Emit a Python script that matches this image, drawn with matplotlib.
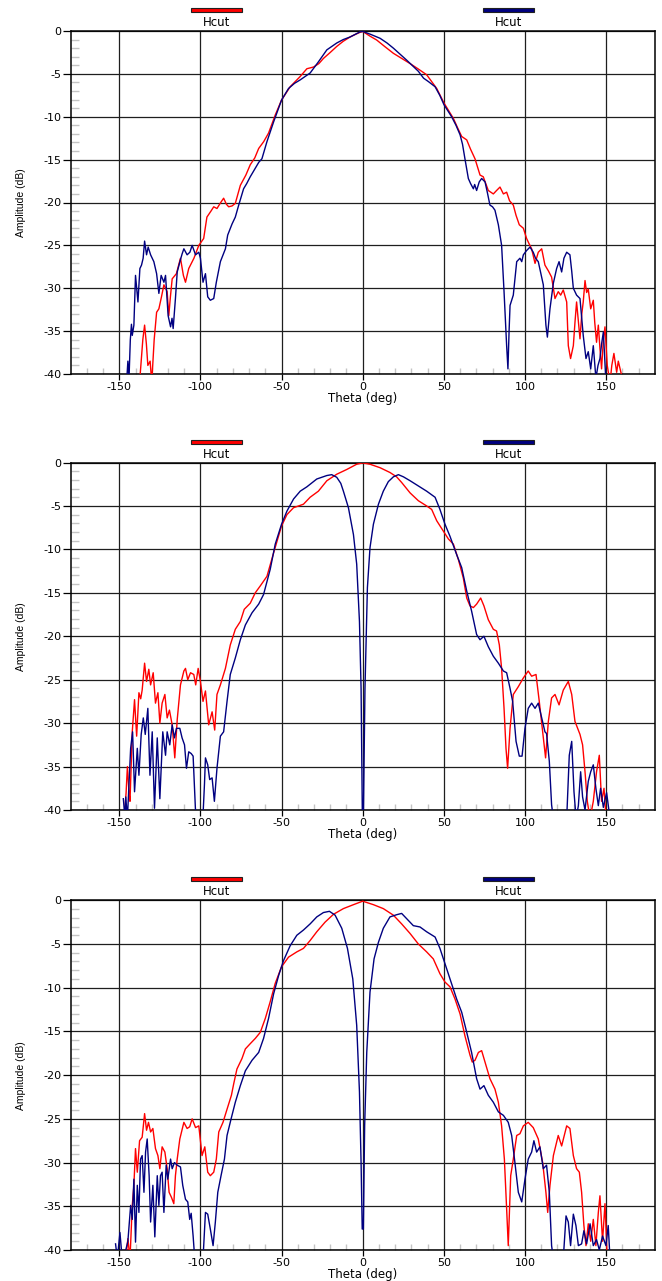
import matplotlib
matplotlib.use("Agg")
import matplotlib.pyplot as plt
from matplotlib.patches import Rectangle
import matplotlib.transforms as mtransforms

plt.rcParams['axes.unicode_minus'] = False
plt.rcParams['font.family'] = ['DejaVu Sans']

# ---------------- data (theta in deg, amplitude in dB) ----------------
p1_red = [(-137.5, -41), (-135.5, -36), (-134.4, -34.3), (-133.3, -36.5), (-132.4, -39), (-131, -38.5), (-130, -41),
          (-128.5, -36), (-127, -32.8), (-125.6, -32.4), (-124, -31), (-122.5, -29.6), (-120.5, -30.4), (-119.5, -33.2),
          (-118.5, -31), (-117.4, -28.9), (-114.8, -28.3), (-112.3, -26.5), (-110.5, -28.5), (-109.2, -29.3),
          (-107.2, -27.7), (-104, -26.5), (-101, -25), (-98, -24.2), (-96, -21.7), (-93.5, -21), (-91.8, -20.5),
          (-89.8, -20.7), (-87.5, -20), (-85.7, -19.5), (-84, -20.2), (-82.6, -20.5), (-80.5, -20.4), (-78.5, -20.1),
          (-75.4, -18), (-72, -16.8), (-69.3, -15.6), (-66.5, -14.8), (-64.1, -13.7), (-61, -12.9), (-58, -11.9),
          (-53.9, -9.8), (-50, -8.05), (-44.7, -6.5), (-38.5, -5.3), (-34.4, -4.4), (-30.3, -4.2), (-27, -3.8),
          (-24.2, -3.2), (-20, -2.5), (-16, -1.8), (-12, -1.2), (-7.8, -0.7), (-4, -0.35), (-1.6, -0.15), (0, -0.05),
          (2, -0.3), (4.5, -0.6), (8.6, -1.05), (13.5, -1.8), (18.9, -2.6), (24, -3.2), (29.2, -3.8), (34, -4.4),
          (39.4, -5.1), (45.6, -6.7), (50.1, -8.4), (55.9, -10.2), (58.5, -11.3), (61, -12.3), (64.1, -12.7),
          (66.5, -13.8), (69.2, -14.9), (72.3, -16.8), (74.3, -17), (77.4, -18.6), (80.5, -19), (82.5, -18.6),
          (84.6, -18.2), (86.7, -19), (88.7, -18.8), (90.5, -19.8), (92.8, -20.3), (94.5, -21.5), (96.5, -22.6),
          (99, -23), (101, -24.2), (102.5, -24.8), (104.1, -25.4), (106.2, -27.1), (108.2, -25.8), (110.3, -25.4),
          (112.3, -27.3), (114.5, -28), (116.4, -28.7), (118.5, -31.2), (120.5, -30.4), (122, -30.8), (123.6, -30.2),
          (125.7, -31.6), (126.7, -36.7), (128.1, -38.2), (129.8, -36.7), (130.8, -34), (131.8, -31.6), (133, -34),
          (133.9, -35.9), (135, -33), (135.9, -31.6), (137, -29.1), (138, -30.5), (139, -30.1), (140.5, -32.4),
          (142.1, -31.4), (143, -34), (144.1, -36.3), (145.2, -34.3), (146.2, -37), (147.2, -39.4), (148.3, -36),
          (149.3, -34.5), (150.7, -39), (152.4, -41), (153.5, -39), (154.8, -37.6), (156.5, -39.8), (157.5, -38.5),
          (158.5, -39.3), (160.6, -41)]

p1_blue = [(-145.5, -41), (-144.7, -38.5), (-144, -40.5), (-143.2, -36), (-142.5, -34.2), (-142, -35.5), (-141, -34.3),
           (-140, -28.5), (-139.3, -30), (-138.5, -31.6), (-137.3, -27.7), (-136.3, -27.3), (-135.3, -26.5),
           (-134.4, -24.5), (-133.2, -26.1), (-132.2, -25.2), (-130.7, -26.1), (-128.7, -26.9), (-127, -28.3),
           (-125.6, -30.6), (-124.2, -28.5), (-122.5, -29.3), (-121.5, -28.5), (-119.9, -33.2), (-118.4, -34.5),
           (-117.5, -33.5), (-116.8, -34.7), (-115.4, -31.2), (-114.3, -28.1), (-112.5, -26.8), (-111.3, -26),
           (-110.2, -25.4), (-108.2, -26.1), (-106.5, -25.8), (-105.1, -25), (-103, -26.1), (-101, -25.8),
           (-100, -26.5), (-98.4, -29.3), (-96.9, -28.3), (-95.5, -31), (-93.9, -31.4), (-91.8, -31.2),
           (-90.2, -29.3), (-87.7, -26.9), (-84.6, -25.4), (-83.2, -23.8), (-80.5, -22.5), (-78.5, -21.7),
           (-76.4, -20.3), (-73.4, -18.4), (-71.5, -17.8), (-69.3, -17), (-66.2, -16), (-64, -15.3), (-62.1, -14.9),
           (-59, -12.9), (-54.9, -10.6), (-50, -8.05), (-45.7, -6.7), (-42, -6.1), (-38.5, -5.7), (-35.5, -5.3),
           (-32.4, -4.9), (-27.3, -3.6), (-22.1, -2.2), (-16, -1.4), (-12, -1.0), (-7.8, -0.7), (-1.6, -0.1),
           (0, -0.05), (5, -0.4), (10.7, -0.85), (15, -1.4), (18.9, -2), (23, -2.7), (27.1, -3.4), (31, -4.1),
           (34.3, -4.7), (37.5, -5.5), (40.5, -5.9), (44.6, -6.5), (47.5, -7.5), (50.1, -8.6), (54.8, -10),
           (57.5, -11), (60, -12.1), (61.5, -13.2), (63, -14.9), (65.1, -17.2), (66.5, -17.8), (68.2, -18.4),
           (69, -17.9), (70.2, -18.6), (71.8, -17.6), (73.3, -17.2), (75.4, -17.6), (77, -19), (78.4, -20.3),
           (80, -20.5), (81.5, -20.9), (83.6, -22.6), (85.6, -25), (87.1, -30.4), (88.7, -36.7), (89.5, -39.4),
           (90.2, -35), (90.8, -32), (92.8, -30.8), (94.9, -26.9), (96.9, -26.5), (98, -26.9), (99, -26.1),
           (101, -25.6), (103.1, -25.2), (105.1, -25.8), (106.5, -26.5), (108.2, -26.9), (111.3, -29.6),
           (112.9, -34.3), (113.8, -35.7), (115.4, -32.4), (117.5, -29.4), (119.5, -27.7), (121, -26.9),
           (122.6, -28.1), (124, -26.5), (125.7, -25.8), (127.7, -26.1), (128.8, -28), (129.8, -30), (131.8, -30.8),
           (133.9, -31.2), (135.9, -35.5), (137.6, -38.2), (139, -37.4), (140.5, -39.4), (142.1, -36.7),
           (143.7, -40.5), (145, -39), (146.2, -38.2), (147.2, -36.5), (148.3, -35.1), (149.9, -41)]

p2_red = [(-147, -41), (-145.8, -38), (-145, -35), (-144, -38), (-143.4, -39), (-142, -31), (-140.6, -27.3),
          (-139.3, -31.5), (-137.9, -26.5), (-136.8, -27.2), (-135.9, -26.2), (-134.4, -23.1), (-133.2, -25.2),
          (-131.8, -23.8), (-130.7, -25.6), (-129.1, -24.2), (-127.7, -27.7), (-126.2, -26.5), (-125, -30),
          (-123.6, -27.7), (-121.9, -26.7), (-120.5, -29.4), (-119.1, -28.5), (-117.4, -30.2), (-115.8, -34),
          (-114.3, -29.6), (-112.3, -25.6), (-110.2, -24), (-109.2, -23.7), (-107.8, -25), (-106.1, -24.2),
          (-104.1, -24.4), (-102.9, -25.6), (-101.4, -23.7), (-100, -25.2), (-98.4, -27.5), (-96.9, -26.3),
          (-94.9, -30.2), (-92.8, -28.7), (-91.2, -30.8), (-89.8, -26.7), (-87.7, -25.6), (-84.6, -23.7),
          (-81.6, -21), (-78.5, -19.2), (-75.4, -18.3), (-73, -16.9), (-69.3, -16.2), (-66.2, -15), (-63.1, -14.2),
          (-59, -13.1), (-54.9, -10.4), (-50, -7.3), (-46.7, -6), (-42.6, -5.2), (-39.5, -5.0), (-36.5, -4.8),
          (-32.4, -4), (-27.3, -3.3), (-22.1, -2.1), (-16, -1.35), (-9.8, -0.8), (-3.7, -0.2), (0, -0.05),
          (4.5, -0.2), (10.7, -0.6), (16.8, -1.15), (20.9, -1.65), (24, -2.3), (29.2, -3.5), (34.3, -4.4),
          (39.4, -5), (42.5, -5.4), (45.6, -6.7), (49.7, -7.9), (52.8, -8.8), (55.9, -9.4), (59, -11.2), (62, -13.3),
          (64.1, -15.6), (66.1, -16.5), (68.2, -16.7), (70.2, -16.3), (72.7, -15.6), (74.7, -16.5), (77.4, -18.1),
          (80.5, -19.2), (82.5, -19.4), (84.2, -21), (85.6, -23.7), (87.1, -28.3), (88.3, -32.9), (89.3, -35.2),
          (90.8, -30.6), (92.8, -26.7), (95.9, -25.8), (99, -24.8), (102, -24), (104.1, -24.6), (106.8, -24.4),
          (108.8, -27.5), (110.9, -31), (112.7, -34), (114.4, -29.8), (116.4, -27.1), (118.5, -26.7), (121, -27.9),
          (123.6, -26.2), (126.7, -25.2), (128.8, -26.7), (130.8, -29.8), (133.9, -31.3), (135.5, -32.5),
          (137, -35.6), (138.4, -39), (140.1, -41), (142.1, -39), (144.1, -35.6), (145.8, -33.7), (147.2, -39),
          (148.7, -37.5), (150, -41)]

p2_blue = [(-147.5, -38.7), (-146.5, -41), (-146, -38.5), (-145, -41), (-143, -32.9), (-141.8, -31), (-140.6, -37.9),
           (-138.9, -32.9), (-137.9, -36), (-136.5, -31.3), (-135.2, -29.4), (-134, -31.3), (-132.4, -28.3),
           (-131.1, -36), (-129.7, -31), (-128.3, -39.8), (-126.6, -31.7), (-125, -38.7), (-123.2, -31),
           (-121.5, -33.7), (-120.5, -31), (-118.9, -32.5), (-117.4, -30.2), (-116, -31.7), (-114.8, -30.6),
           (-112.7, -30.6), (-111.3, -31.7), (-109.8, -32.5), (-108.6, -35.2), (-107.2, -33.3), (-105.7, -33.5),
           (-104.5, -33.8), (-103.1, -39.8), (-102.5, -41), (-98.5, -41), (-97.5, -37), (-96.9, -34), (-95.5, -34.8),
           (-94.3, -36.5), (-92.8, -36.3), (-91.4, -39), (-89.8, -35.2), (-87.7, -31.5), (-85.7, -31),
           (-83.6, -27.5), (-81.6, -24.4), (-78.5, -22.5), (-75.4, -20.4), (-72.3, -18.7), (-68.2, -17.3),
           (-64.1, -16.3), (-61.1, -15.2), (-57, -12.3), (-53.9, -9.4), (-50, -7.1), (-46.7, -5.6), (-42.6, -4.2),
           (-38.5, -3.3), (-34.4, -2.8), (-28.3, -1.9), (-22.1, -1.5), (-19.1, -1.4), (-16, -1.7), (-13.5, -2.4),
           (-11.9, -3.3), (-8.8, -5.2), (-5.7, -8.3), (-3.7, -11.7), (-2, -18.3), (-1, -26), (-0.2, -41),
           (0.4, -41), (1.4, -26), (2.9, -14.4), (4.5, -9.8), (6.6, -7.1), (9.7, -4.8), (12.7, -3.3), (15.8, -2.2),
           (18.9, -1.65), (22, -1.4), (25.1, -1.65), (29.2, -2.1), (34.3, -2.7), (39.4, -3.3), (44.6, -4),
           (47.6, -5.4), (50.7, -7.1), (53.8, -8.5), (57.9, -10.6), (61, -12.1), (64.1, -14.8), (67.1, -17.1),
           (70.2, -19.8), (72.3, -20.4), (74.7, -20), (77.4, -21.2), (80.5, -22.3), (83.6, -23.1), (86.7, -24),
           (88.7, -24.2), (90.8, -26), (92.4, -27.5), (94.5, -32.1), (96.5, -33.8), (98.2, -33.8), (100, -30.6),
           (102, -28.3), (104.1, -27.7), (106.2, -28.3), (108.2, -27.7), (110.3, -29.4), (112.3, -31),
           (113.3, -31.2), (115, -34.4), (116.4, -39.4), (117.5, -41), (125.7, -41), (127.3, -33.7), (128.8, -32.1),
           (130.2, -37.9), (131.5, -41), (132.9, -39.5), (134.3, -35.6), (135.5, -38.5), (137, -40), (139, -36.7),
           (140.5, -35.6), (142.1, -34.8), (143.7, -37.5), (145.2, -39.5), (146.6, -37.5), (148.3, -39.7),
           (150.3, -38), (151.7, -40), (153.4, -41)]

p3_red = [(-146, -41), (-144.7, -38.7), (-143.4, -41), (-142, -34.9), (-141, -32.6), (-140, -28.4), (-138.9, -31.1),
          (-137.5, -27.5), (-135.9, -27.1), (-134.4, -24.4), (-133.2, -26.3), (-132, -25.4), (-130.7, -26.5),
          (-129.3, -26.1), (-127.7, -28.4), (-126.2, -29.2), (-125, -30.7), (-123.6, -28.2), (-121.9, -28.8),
          (-120.5, -30.7), (-119.3, -33.4), (-117.8, -34), (-116.4, -34.7), (-115.4, -31.5), (-114.3, -29.6),
          (-112.7, -27.3), (-110.2, -25.4), (-108.2, -26.1), (-106.6, -25.9), (-105.1, -25), (-103, -26),
          (-101, -25.8), (-99, -29.2), (-97.3, -28.2), (-95.5, -31.1), (-93.9, -31.5), (-91.8, -31.1),
          (-90.2, -29.6), (-88.7, -26.5), (-86.1, -25.4), (-83.6, -23.9), (-80.9, -22.3), (-79.5, -21),
          (-77.5, -19.3), (-74.4, -18.1), (-72.3, -17), (-69.3, -16.4), (-66.2, -15.8), (-63.1, -15.1),
          (-60, -13.5), (-57, -11.6), (-53.9, -9.5), (-50, -7.6), (-45.7, -6.5), (-40.6, -5.9), (-36.5, -5.5),
          (-32.4, -4.6), (-28.3, -3.6), (-23.2, -2.5), (-18, -1.6), (-11.9, -0.95), (-5.7, -0.5), (0, -0.1),
          (6.6, -0.5), (12.7, -0.95), (18.9, -1.7), (24, -2.7), (29.2, -3.8), (34.3, -5), (39.4, -5.9),
          (43.5, -6.7), (47.6, -8.4), (50.7, -9.35), (53.8, -9.9), (56.9, -11.3), (60, -13), (63, -15.5),
          (66.1, -17.7), (67.5, -18.5), (69.2, -18.3), (71.3, -17.4), (73.3, -17.2), (76, -18.9), (78.4, -20.4),
          (81.5, -21.6), (83.6, -23.1), (85.6, -25.8), (87.3, -29.6), (88.7, -35.3), (89.7, -39.5), (91.2, -31.5),
          (92.8, -29.6), (94.9, -26.9), (96.9, -26.7), (99, -25.8), (102, -25.4), (105.1, -26), (108.2, -27.3),
          (110.9, -30), (112.9, -33.4), (114, -35.7), (115.4, -32.6), (117.5, -29.2), (120.5, -26.9),
          (122.6, -28.1), (125.7, -25.8), (127.7, -26.1), (129.8, -29.2), (131.8, -30.7), (133.5, -31.1),
          (134.9, -33.4), (136.3, -37.2), (137.6, -39.5), (139, -37), (140.5, -39), (142.1, -36.5), (143.7, -39.5),
          (145.2, -35.7), (146.2, -33.8), (147.8, -39), (149.3, -34.7), (150.7, -41)]

p3_blue = [(-152.3, -39.3), (-151.2, -41), (-149.6, -38), (-148.2, -41), (-146, -40), (-144.7, -39), (-143, -34.9),
           (-142, -36.5), (-141, -31.9), (-140, -39.1), (-138.9, -32.6), (-137.9, -35.7), (-136.9, -29.6),
           (-135.9, -29.2), (-134.8, -33.4), (-133.8, -28.8), (-132.8, -27.3), (-131.6, -31.5), (-130.7, -36.8),
           (-129.3, -32.6), (-128.1, -38.5), (-126.6, -31.5), (-125.6, -34.9), (-124.6, -31.5), (-123.6, -31.1),
           (-122.5, -35.7), (-121.1, -30.3), (-120.1, -31.9), (-118.4, -29.6), (-117.4, -30.7), (-116, -30),
           (-114.3, -30.3), (-112.3, -30.5), (-110.9, -32.6), (-109.2, -34.2), (-107.8, -34.5), (-106.6, -36.5),
           (-105.7, -35.8), (-104.5, -38.4), (-103.5, -41), (-98.4, -41), (-96.9, -35.7), (-95.5, -35.9),
           (-93.9, -37.6), (-92.2, -39.5), (-90.8, -36.8), (-89.3, -33.4), (-87.3, -31.5), (-85.2, -29.6),
           (-83.6, -26.9), (-81.1, -25), (-78.5, -23.1), (-75.4, -21.2), (-72.3, -19.5), (-68.2, -18.3),
           (-64.1, -17.4), (-61.1, -15.8), (-58, -13.5), (-54.9, -10.7), (-51.8, -8.6), (-48.8, -6.9),
           (-44.7, -5.2), (-40.6, -4), (-36.5, -3.4), (-32.4, -2.7), (-28.3, -1.9), (-24.2, -1.4), (-20.5, -1.26),
           (-17, -1.7), (-12.9, -3.2), (-9.4, -5.5), (-6.1, -9), (-3.7, -14.3), (-2, -21.9), (-1, -30),
           (-0.3, -37.6), (0.4, -37.6), (1.2, -25.8), (2.5, -17.4), (4.5, -10.5), (7, -6.7), (9.7, -4.8),
           (12.7, -3.2), (16.8, -1.9), (20.9, -1.65), (24, -1.5), (27.1, -2.1), (31.2, -2.9), (35.3, -3.05),
           (39.4, -3.6), (44.6, -4.2), (47.6, -5.5), (50.7, -7.25), (53.8, -9), (57.9, -11.3), (61, -12.8),
           (64.1, -15.1), (67.1, -17.4), (70.2, -20.4), (72.3, -21.6), (74.7, -21.2), (77.4, -22.3), (80.5, -23.1),
           (83.6, -24.2), (86.7, -24.6), (89.7, -25.4), (91.8, -26.9), (93.8, -30), (95.9, -33.4), (98, -34.5),
           (100, -31.9), (102, -29.6), (104.1, -28.8), (105.5, -27.5), (107.2, -28.8), (109.2, -28.2),
           (111.3, -30.7), (113.3, -30.3), (115, -33.4), (116.4, -39.5), (117.5, -41), (123.6, -41), (125.3, -36.1),
           (126.7, -36.8), (128.1, -39.5), (129.8, -35.9), (131.4, -37.2), (132.9, -39.5), (134.9, -39.3),
           (136.3, -37.8), (138, -39.3), (140.1, -37), (142.1, -39.5), (144.1, -38.8), (145.8, -40),
           (147.8, -38.4), (149.9, -39.5), (151.3, -37.2), (152.4, -41)]

legend_labels = ["Hcut", "Hcut"]
x_ticks = [-150, -100, -50, 0, 50, 100, 150]
y_ticks = [0, -5, -10, -15, -20, -25, -30, -35, -40]
x_label = "Theta (deg)"
y_label = "Amplitude (dB)"

RED = '#ff0000'
BLUE = '#000080'

# ---------------- figure ----------------
W, H = 662, 1281
fig = plt.figure(figsize=(W / 100, H / 100), dpi=100)

left_px, right_px = 70.6, 654.8
panels_px = [(31.0, 374.0), (462.5, 810.0), (900.3, 1250.0)]
series = [(p1_red, p1_blue), (p2_red, p2_blue), (p3_red, p3_blue)]

for (top, bot), (red, blue) in zip(panels_px, series):
    ax = fig.add_axes([left_px / W, 1 - bot / H, (right_px - left_px) / W, (bot - top) / H])
    hpx = bot - top
    ax.set_xlim(-180, 180)
    ax.set_ylim(-40, 0)

    ax.plot([p[0] for p in red], [p[1] for p in red], color=RED, lw=1.0, zorder=3)
    ax.plot([p[0] for p in blue], [p[1] for p in blue], color=BLUE, lw=1.0, zorder=3)

    ax.set_xticks(x_ticks)
    ax.set_yticks(y_ticks)
    ax.set_xticks(range(-170, 171, 10), minor=True)
    ax.set_yticks(range(-40, 1, 1), minor=True)
    ax.grid(True, which='major', color='#1e1e1e', lw=0.9, zorder=1)
    ax.set_axisbelow(True)

    ax.tick_params(axis='both', which='major', direction='out', color='black', width=0.9, labelsize=8)
    ax.tick_params(axis='x', which='major', length=4.3, pad=1.2)
    ax.tick_params(axis='y', which='major', length=5.8, pad=0.8)
    ax.tick_params(axis='x', which='minor', direction='in', length=4.3, color='#c4c4c4', width=1.0)
    ax.tick_params(axis='y', which='minor', direction='in', length=5.8, color='#c4c4c4', width=1.0)

    for sp in ax.spines.values():
        sp.set_linewidth(1.1)
        sp.set_color('black')

    ax.set_xlabel(x_label, fontsize=8.5, labelpad=0.5)
    ax.set_ylabel(y_label, fontsize=7.5, family='Liberation Sans')
    ax.yaxis.set_label_coords(-(left_px - 26) / (right_px - left_px), 0.5)

    # legend-like markers above plot
    trans = mtransforms.blended_transform_factory(ax.transData, ax.transAxes)
    bar_y = 1 + 21.0 / hpx
    bar_h = 4.0 / hpx
    for xc, col, lab in [(-90, RED, legend_labels[0]), (90, BLUE, legend_labels[1])]:
        rect = Rectangle((xc - 15.8, bar_y - bar_h / 2), 31.6, bar_h, transform=trans,
                         facecolor=col, edgecolor='#202020', lw=0.8, clip_on=False)
        ax.add_patch(rect)
        ax.text(xc, 1 + 8.5 / hpx, lab, transform=trans, ha='center', va='center', fontsize=8.5)

fig.savefig("out.png", dpi=100)
